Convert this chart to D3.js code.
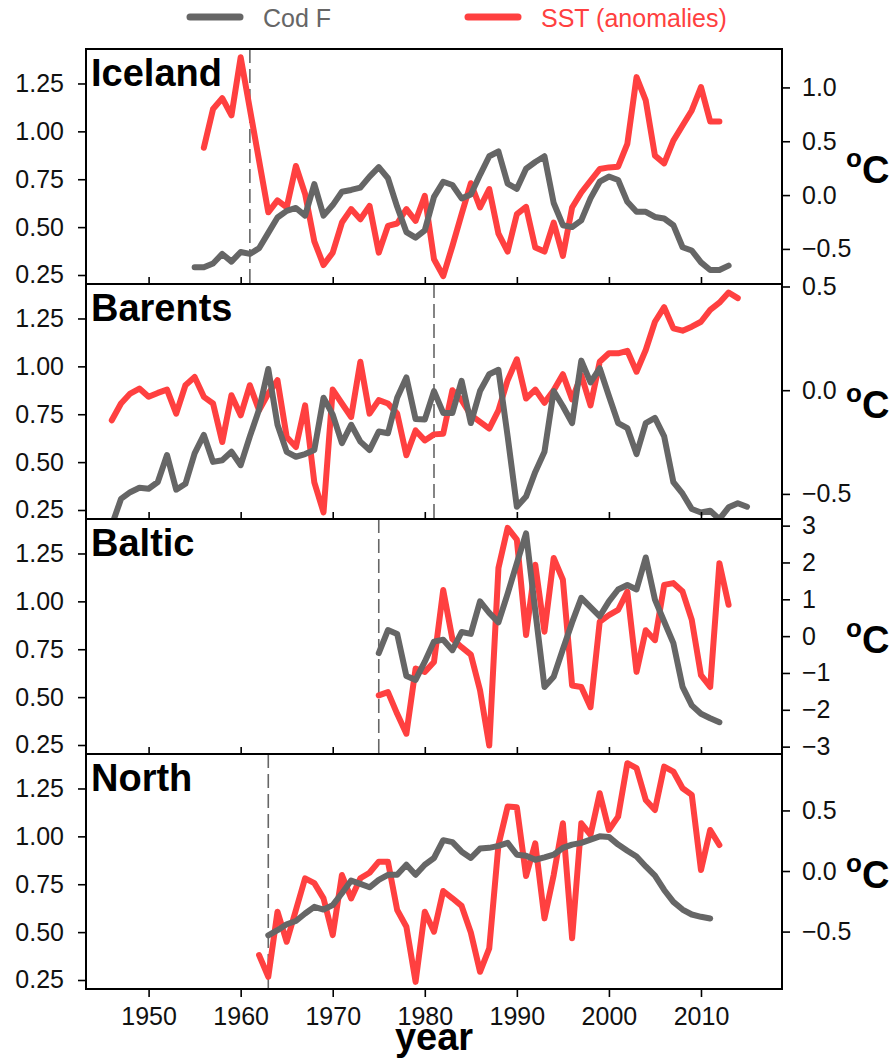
<!DOCTYPE html>
<html>
<head>
<meta charset="utf-8">
<script src="https://cdn.jsdelivr.net/npm/d3@7"></script>
<style>
  body { margin: 0; background: #fff; }
  text { font-family: "Liberation Sans", Arial, sans-serif; }
</style>
</head>
<body>
<div id="chart"></div>
<script>
// ---- data ----
var regions = ["Iceland", "Barents", "Baltic", "North"];
var breakYears = [1961, 1981, 1975, 1963];

var icelandCodStart = 1955;
var icelandCod = [0.29, 0.29, 0.31, 0.36, 0.32, 0.37, 0.36, 0.39, 0.47, 0.55,
  0.585, 0.60, 0.56, 0.725, 0.56, 0.615, 0.685, 0.694, 0.706, 0.764,
  0.813, 0.755, 0.606, 0.474, 0.445, 0.483, 0.658, 0.737, 0.72, 0.65,
  0.67, 0.773, 0.87, 0.895, 0.727, 0.70, 0.805, 0.84, 0.87, 0.626,
  0.51, 0.50, 0.535, 0.65, 0.737, 0.764, 0.746, 0.632, 0.58, 0.58,
  0.553, 0.545, 0.51, 0.395, 0.378, 0.316, 0.276, 0.276, 0.299];
var icelandSstStart = 1956;
var icelandSst = [0.44, 0.80, 0.90, 0.74, 1.28, 0.80, 0.32, -0.16, -0.05, -0.115,
  0.27, 0.01, -0.43, -0.65, -0.535, -0.255, -0.13, -0.224, -0.10, -0.535,
  -0.286, -0.264, -0.13, -0.24, -0.007, -0.596, -0.752, -0.473, -0.177, 0.11,
  -0.115, 0.056, -0.358, -0.525, -0.177, -0.109, -0.488, -0.525, -0.255, -0.565,
  -0.115, 0.024, 0.133, 0.242, 0.257, 0.264, 0.475, 1.096, 0.879, 0.366,
  0.295, 0.506, 0.646, 0.786, 1.003, 0.683, 0.683];

var barentsCodStart = 1946;
var barentsCod = [0.17, 0.308, 0.343, 0.366, 0.361, 0.396, 0.537, 0.356, 0.387, 0.546,
  0.642, 0.501, 0.51, 0.554, 0.484, 0.634, 0.775, 0.986, 0.695, 0.554,
  0.528, 0.542, 0.563, 0.836, 0.748, 0.599, 0.695, 0.607, 0.563, 0.66,
  0.651, 0.836, 0.942, 0.725, 0.722, 0.871, 0.757, 0.757, 0.924, 0.704,
  0.871, 0.959, 0.982, 0.634, 0.267, 0.32, 0.449, 0.554, 0.871, 0.792,
  0.704, 1.03, 0.916, 0.99, 0.845, 0.704, 0.678, 0.542, 0.704, 0.731,
  0.634, 0.396, 0.335, 0.255, 0.237, 0.246, 0.202, 0.264, 0.285, 0.267];
var barentsSstStart = 1946;
var barentsSst = [-0.145, -0.064, -0.016, 0.008, -0.032, -0.013, 0.003, -0.113, 0.024, 0.064,
  -0.032, -0.064, -0.25, -0.024, -0.121, 0.024, -0.097, -0.016, 0.048, -0.226,
  -0.274, -0.073, -0.444, -0.589, 0.003, -0.064, -0.129, 0.137, -0.113, -0.048,
  -0.064, -0.113, -0.314, -0.194, -0.242, -0.213, -0.21, 0.0, -0.048, -0.12,
  -0.153, -0.185, -0.097, 0.048, 0.149, -0.04, 0.003, -0.061, 0.0, 0.077,
  -0.045, 0.073, -0.073, 0.137, 0.178, 0.178, 0.19, 0.089, 0.194, 0.33,
  0.40, 0.298, 0.287, 0.306, 0.33, 0.387, 0.422, 0.471, 0.444];

var balticCodStart = 1975;
var balticCod = [0.73, 0.85, 0.83, 0.61, 0.59, 0.685, 0.79, 0.80, 0.745, 0.84,
  0.83, 1.0, 0.94, 0.89, 1.04, 1.2, 1.355, 0.95, 0.553, 0.606,
  0.75, 0.89, 1.018, 0.97, 0.922, 1.0, 1.062, 1.085, 1.062, 1.229,
  1.009, 0.895, 0.782, 0.553, 0.457, 0.413, 0.39, 0.369];
var balticSstStart = 1975;
var balticSst = [-1.61, -1.52, -2.11, -2.65, -0.88, -0.97, -0.70, 1.25, -0.08, -0.3,
  -0.5, -1.47, -2.97, 1.85, 2.94, 2.62, 0.03, 1.94, 0.12, 2.12,
  1.53, -1.34, -1.38, -1.93, 0.39, 0.57, 0.71, 1.21, -0.97, 0.16,
  -0.11, 1.39, 1.44, 1.21, 0.44, -1.06, -1.38, 1.98, 0.85];

var northCodStart = 1963;
var northCod = [0.483, 0.51, 0.541, 0.558, 0.597, 0.632, 0.618, 0.641, 0.703, 0.769,
  0.752, 0.734, 0.773, 0.799, 0.799, 0.852, 0.799, 0.852, 0.887, 0.98,
  0.97, 0.92, 0.887, 0.936, 0.94, 0.95, 0.966, 0.904, 0.899, 0.878,
  0.89, 0.904, 0.94, 0.957, 0.966, 0.983, 1.0, 0.997, 0.957, 0.925,
  0.895, 0.843, 0.795, 0.72, 0.658, 0.618, 0.592, 0.58, 0.571];
var northSstStart = 1962;
var northSst = [-0.694, -0.873, -0.336, -0.584, -0.322, -0.06, -0.10, -0.226, -0.529, -0.033,
  -0.226, -0.06, -0.014, 0.077, 0.077, -0.322, -0.46, -0.915, -0.336, -0.501,
  -0.165, -0.225, -0.288, -0.508, -0.832, -0.639, 0.215, 0.532, 0.526, -0.041,
  0.229, -0.391, -0.033, 0.394, -0.556, 0.394, 0.298, 0.642, 0.339, 0.449,
  0.89, 0.849, 0.587, 0.504, 0.862, 0.821, 0.683, 0.628, 0.008, 0.339, 0.215];

// tick labels
var yearTicks = [1950, 1960, 1970, 1980, 1990, 2000, 2010];
var codTicks = [0.25, 0.50, 0.75, 1.00, 1.25];
var sstTicks = [[-0.5, 0.0, 0.5, 1.0], [-0.5, 0.0, 0.5], [-3, -2, -1, 0, 1, 2, 3], [-0.5, 0.0, 0.5]];
var sstFormats = [".1f", ".1f", "d", ".1f"];
var sstDomains = [[-0.826, 1.357], [-0.621, 0.512], [-3.2, 3.18], [-0.974, 0.966]];

// ---- layout ----
var svgWidth = 890, svgHeight = 1060;
var plotLeft = 86, plotRight = 782;
var panelTop = 49, panelHeight = 235;
var codColor = "#666666", sstColor = "#ff4040";

var svg = d3.select("#chart").append("svg")
  .attr("width", svgWidth).attr("height", svgHeight);

var x = d3.scaleLinear().domain([1943.2, 2018.8]).range([plotLeft, plotRight]);

function toPoints(start, values) {
  return values.map(function (v, i) { return { year: start + i, value: v }; });
}

var panels = [
  { cod: toPoints(icelandCodStart, icelandCod), sst: toPoints(icelandSstStart, icelandSst) },
  { cod: toPoints(barentsCodStart, barentsCod), sst: toPoints(barentsSstStart, barentsSst) },
  { cod: toPoints(balticCodStart, balticCod), sst: toPoints(balticSstStart, balticSst) },
  { cod: toPoints(northCodStart, northCod), sst: toPoints(northSstStart, northSst) }
];

function styleAxis(g, size) {
  g.select(".domain").remove();
  g.selectAll(".tick line").attr("stroke", "#000").attr("stroke-width", 1.6);
  g.selectAll(".tick text").attr("font-size", size).attr("fill", "#111")
    .style("font-family", "'Liberation Sans', Arial, sans-serif");
}

panels.forEach(function (p, i) {
  var top = panelTop + i * panelHeight;
  var bottom = top + panelHeight;
  var g = svg.append("g");

  var yCod = d3.scaleLinear().domain([0.203, 1.43]).range([bottom, top]);
  var ySst = d3.scaleLinear().domain(sstDomains[i]).range([bottom, top]);

  // white panel background
  g.append("rect").attr("x", plotLeft).attr("y", top)
    .attr("width", plotRight - plotLeft).attr("height", panelHeight)
    .attr("fill", "#fff");

  // left axis (Cod F)
  g.append("g").attr("transform", "translate(" + plotLeft + ",0)")
    .call(d3.axisLeft(yCod).tickValues(codTicks).tickFormat(d3.format(".2f"))
      .tickSize(8).tickPadding(14))
    .call(styleAxis, 25);

  // right axis (SST)
  g.append("g").attr("transform", "translate(" + plotRight + ",0)")
    .call(d3.axisRight(ySst).tickValues(sstTicks[i]).tickFormat(d3.format(sstFormats[i]))
      .tickSize(8).tickPadding(12))
    .call(styleAxis, 25);

  // ºC label
  var cy = (top + bottom) / 2 + 16;
  var deg = g.append("text").attr("x", 846).attr("y", cy)
    .attr("font-weight", "bold").attr("fill", "#000");
  deg.append("tspan").attr("font-size", 26).attr("dy", -16).text("o");
  deg.append("tspan").attr("font-size", 38).attr("dy", 16).text("C");

  // year ticks
  if (i > 0) {
    g.append("g").attr("transform", "translate(0," + top + ")")
      .call(d3.axisTop(x).tickValues(yearTicks).tickFormat("").tickSize(7))
      .call(styleAxis, 25);
  }
  if (i === panels.length - 1) {
    g.append("g").attr("transform", "translate(0," + bottom + ")")
      .call(d3.axisBottom(x).tickValues(yearTicks).tickFormat(d3.format("d"))
        .tickSize(8).tickPadding(10))
      .call(styleAxis, 25);
  }

  // dashed reference year
  g.append("line")
    .attr("x1", x(breakYears[i])).attr("x2", x(breakYears[i]))
    .attr("y1", top).attr("y2", bottom)
    .attr("stroke", codColor).attr("stroke-width", 1.6)
    .attr("stroke-dasharray", "14,6");

  // series
  var sstLine = d3.line().x(function (d) { return x(d.year); }).y(function (d) { return ySst(d.value); });
  var codLine = d3.line().x(function (d) { return x(d.year); }).y(function (d) { return yCod(d.value); });

  g.append("path").datum(p.sst).attr("d", sstLine)
    .attr("fill", "none").attr("stroke", sstColor).attr("stroke-width", 6)
    .attr("stroke-linejoin", "round").attr("stroke-linecap", "round");
  g.append("path").datum(p.cod).attr("d", codLine)
    .attr("fill", "none").attr("stroke", codColor).attr("stroke-width", 6)
    .attr("stroke-linejoin", "round").attr("stroke-linecap", "round");

  // frame
  g.append("rect").attr("x", plotLeft).attr("y", top)
    .attr("width", plotRight - plotLeft).attr("height", panelHeight)
    .attr("fill", "none").attr("stroke", "#000").attr("stroke-width", 2);

  // region name
  g.append("text").attr("x", 91).attr("y", top + 37)
    .attr("font-size", 38).attr("font-weight", "bold").attr("fill", "#000")
    .text(regions[i]);
});

// x title
svg.append("text").attr("x", (plotLeft + plotRight) / 2).attr("y", 1050)
  .attr("text-anchor", "middle").attr("font-size", 38).attr("font-weight", "bold")
  .text("year");

// legend
var legendItems = [
  { label: "Cod F", color: codColor, x1: 190, x2: 240, tx: 263 },
  { label: "SST (anomalies)", color: sstColor, x1: 468, x2: 518, tx: 541 }
];
var legend = svg.append("g");
legendItems.forEach(function (d) {
  legend.append("line").attr("x1", d.x1).attr("x2", d.x2).attr("y1", 17).attr("y2", 17)
    .attr("stroke", d.color).attr("stroke-width", 7).attr("stroke-linecap", "round");
  legend.append("text").attr("x", d.tx).attr("y", 27).attr("font-size", 25)
    .attr("fill", d.color).text(d.label);
});
</script>
</body>
</html>
